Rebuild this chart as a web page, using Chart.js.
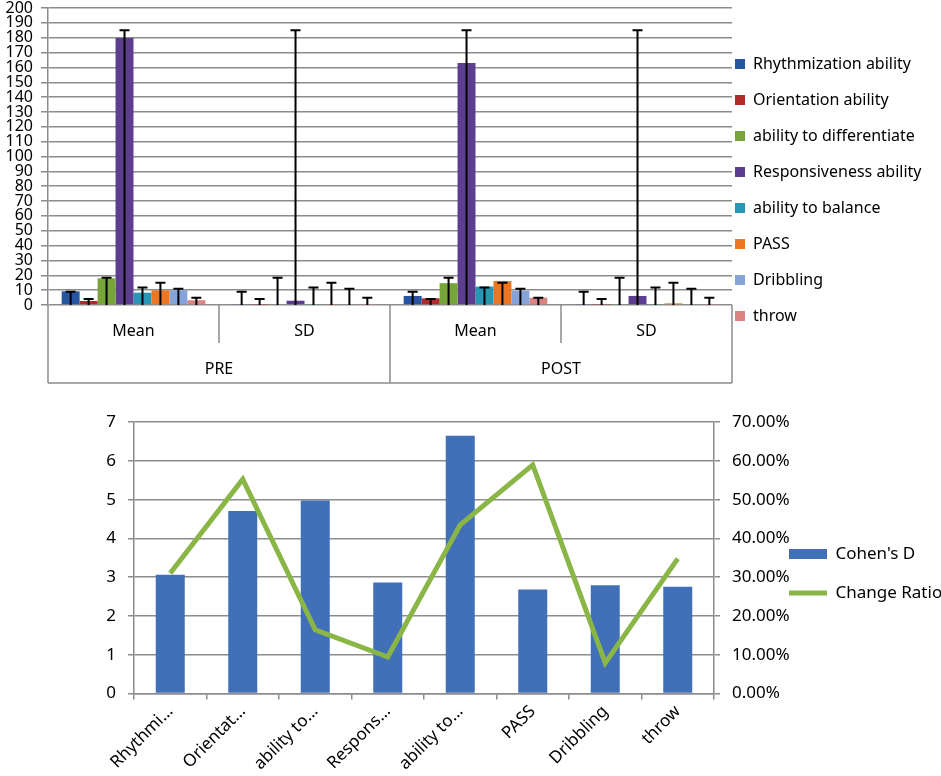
<!DOCTYPE html>
<html>
<head>
<meta charset="utf-8">
<script src="https://cdn.jsdelivr.net/npm/chart.js@4.4.1/dist/chart.umd.min.js"></script>
<style>
  body { margin: 0; background: #fff; }
  #top { position: absolute; left: 0; top: 0; }
  #bottom { position: absolute; left: 0; top: 400px; }
</style>
</head>
<body>
<canvas id="top" width="941" height="390"></canvas>
<canvas id="bottom" width="941" height="376"></canvas>
<script>
// données du graphique du haut
const groups = ['PRE', 'POST'];
const stats = ['Mean', 'SD'];
const abilities = ['Rhythmization ability', 'Orientation ability', 'ability to differentiate',
  'Responsiveness ability', 'ability to balance', 'PASS', 'Dribbling', 'throw'];
// valeurs par aptitude : PRE Mean, PRE SD, POST Mean, POST SD
const rhythmization = [9.2, 0.4, 6.1, 0.4];
const orientation = [2.7, 0.3, 4.5, 0.3];
const differentiate = [18, 0.4, 14.7, 0.4];
const responsiveness = [179.8, 2.9, 163, 6.1];
const balance = [8.3, 0.4, 12.4, 0.4];
const pass = [9.9, 0.4, 16.2, 1.1];
const dribbling = [9.9, 0.4, 9.6, 0.4];
const throwing = [3.2, 0.3, 4.9, 0.3];
// haut des barres d'erreur (identiques dans chaque groupe)
const errorTop = [9, 4, 18.3, 185, 11.8, 15, 11, 4.8];
const topColors = ['#2656A0', '#B02A2A', '#78A53A', '#5C3D8F', '#2797B6', '#EC7722', '#85A3D8', '#D98383'];

// données du graphique du bas
const shortLabels = ['Rhythmi…', 'Orientat…', 'ability to…', 'Respons…', 'ability to…', 'PASS', 'Dribbling', 'throw'];
const cohensD = [3.06, 4.71, 4.98, 2.86, 6.65, 2.68, 2.79, 2.75];
const changeRatio = [31, 55.3, 16.4, 9.4, 43.5, 59, 7.9, 34.8];

const FONT = '"Noto Sans", "Open Sans", sans-serif';
const GRID = '#8c8c8c';

// catégories : Mean / SD pour chaque groupe
const xLabels = [];
groups.forEach(() => stats.forEach(s => xLabels.push(s)));

const series = [rhythmization, orientation, differentiate, responsiveness, balance, pass, dribbling, throwing];

// Fonction pour placer la légende où on veut
function legendPlacer(width, x, y) {
    return {
        id: 'legendPlacer',
        beforeInit(chart) {
            const fit = chart.legend.fit;
            chart.legend.fit = function () {
                fit.call(this);
                this.width = width;
            };
        },
        afterLayout(chart) {
            const pad = chart.options.plugins.legend.labels.padding;
            chart.legend.left = x - pad;
            chart.legend.top = y - pad;
        }
    };
}

// Barres d'erreur (du zéro jusqu'au chapeau)
const errorBars = {
    id: 'errorBars',
    afterDatasetsDraw(chart) {
        const { ctx, scales: { y } } = chart;
        ctx.save();
        ctx.strokeStyle = '#000';
        ctx.lineWidth = 2;
        chart.data.datasets.forEach((ds, i) => {
            const y0 = y.getPixelForValue(0);
            const y1 = y.getPixelForValue(errorTop[i]);
            chart.getDatasetMeta(i).data.forEach(bar => {
                ctx.beginPath();
                ctx.moveTo(bar.x, y0);
                ctx.lineTo(bar.x, y1);
                ctx.moveTo(bar.x - 5, y1);
                ctx.lineTo(bar.x + 5, y1);
                ctx.stroke();
            });
        });
        ctx.restore();
    }
};

// Tableau des catégories à deux niveaux sous l'axe
const groupTable = {
    id: 'groupTable',
    afterDraw(chart) {
        const { ctx, chartArea: a, scales: { x } } = chart;
        const step = (a.right - a.left) / xLabels.length;
        const mid = a.bottom + 38;
        const end = a.bottom + 78;
        ctx.save();
        ctx.strokeStyle = GRID;
        ctx.lineWidth = 1.5;
        ctx.beginPath();
        for (let i = 0; i <= xLabels.length; i++) {
            const px = a.left + i * step;
            ctx.moveTo(px, a.bottom);
            ctx.lineTo(px, i % stats.length === 0 ? end : mid);
        }
        ctx.moveTo(a.left, end);
        ctx.lineTo(a.right, end);
        ctx.stroke();
        ctx.fillStyle = '#000';
        ctx.font = '16px ' + FONT;
        ctx.textAlign = 'center';
        ctx.textBaseline = 'middle';
        xLabels.forEach((lab, i) => {
            ctx.fillText(lab, x.getPixelForValue(i), a.bottom + 26);
        });
        groups.forEach((g, i) => {
            const gx = a.left + (i + 0.5) * step * stats.length;
            ctx.fillText(g, gx, a.bottom + 64);
        });
        ctx.restore();
    }
};

new Chart(document.getElementById('top'), {
    type: 'bar',
    data: {
        labels: xLabels,
        datasets: abilities.map((name, i) => ({
            label: name,
            data: series[i],
            backgroundColor: topColors[i],
            borderWidth: 0,
            categoryPercentage: 0.84,
            barPercentage: 1
        }))
    },
    options: {
        responsive: false,
        animation: false,
        layout: { padding: { top: 0, bottom: 7, right: 0, left: 0 } },
        plugins: {
            tooltip: { enabled: false },
            legend: {
                position: 'right',
                align: 'start',
                labels: {
                    boxWidth: 10,
                    boxHeight: 10,
                    padding: 20,
                    color: '#000',
                    font: { family: FONT, size: 16 }
                }
            }
        },
        scales: {
            x: {
                ticks: { display: false },
                grid: { display: false },
                border: { display: false },
                afterFit(scale) { scale.height = 78; }
            },
            y: {
                min: 0,
                max: 200,
                ticks: {
                    stepSize: 10,
                    autoSkip: false,
                    padding: 8,
                    color: '#000',
                    font: { family: FONT, size: 16, lineHeight: 1 }
                },
                grid: { color: GRID, lineWidth: 1.5, tickLength: 7 },
                border: { color: GRID, width: 1.5 },
                afterFit(scale) {
                    scale.width = 48;
                    scale.paddingTop = 8;
                }
            }
        }
    },
    plugins: [errorBars, groupTable, legendPlacer(209, 735, 56)]
});

// Graphique du bas : Cohen's D et ratio de changement
new Chart(document.getElementById('bottom'), {
    data: {
        labels: shortLabels,
        datasets: [
            {
                type: 'line',
                label: 'Change Ratio',
                data: changeRatio,
                yAxisID: 'y1',
                borderColor: '#8AB547',
                borderWidth: 5,
                pointRadius: 0,
                pointHoverRadius: 0,
                tension: 0,
                order: 0
            },
            {
                type: 'bar',
                label: "Cohen's D",
                data: cohensD,
                yAxisID: 'y',
                backgroundColor: '#416FB8',
                borderWidth: 0,
                categoryPercentage: 1,
                barPercentage: 0.4,
                order: 1
            }
        ]
    },
    options: {
        responsive: false,
        animation: false,
        layout: { padding: { top: 0, bottom: 0, left: 0, right: 0 } },
        plugins: {
            tooltip: { enabled: false },
            legend: {
                position: 'right',
                align: 'start',
                reverse: true,
                labels: {
                    usePointStyle: true,
                    pointStyleWidth: 38,
                    boxHeight: 10,
                    padding: 22,
                    color: '#000',
                    font: { family: FONT, size: 17 },
                    generateLabels(chart) {
                        return Chart.defaults.plugins.legend.labels.generateLabels(chart).map(item => {
                            const ds = chart.data.datasets[item.datasetIndex];
                            if (ds.type === 'line') {
                                item.pointStyle = 'line';
                                item.strokeStyle = ds.borderColor;
                                item.lineWidth = 5;
                            } else {
                                item.pointStyle = 'rect';
                                item.fillStyle = ds.backgroundColor;
                                item.lineWidth = 0;
                            }
                            return item;
                        });
                    }
                }
            }
        },
        scales: {
            x: {
                offset: true,
                ticks: {
                    minRotation: 45,
                    maxRotation: 45,
                    autoSkip: false,
                    padding: 2,
                    color: '#000',
                    font: { family: FONT, size: 17 }
                },
                grid: { drawOnChartArea: false, color: GRID, lineWidth: 1.5, tickLength: 6, offset: true },
                border: { color: GRID, width: 1.5 }
            },
            y: {
                position: 'left',
                min: 0,
                max: 7,
                ticks: { stepSize: 1, padding: 12, color: '#000', font: { family: FONT, size: 17 } },
                grid: { color: GRID, lineWidth: 1.5, tickLength: 6 },
                border: { color: GRID, width: 1.5 },
                afterFit(scale) { scale.width = 134; }
            },
            y1: {
                position: 'right',
                min: 0,
                max: 70,
                ticks: {
                    stepSize: 10,
                    padding: 12,
                    color: '#000',
                    font: { family: FONT, size: 17 },
                    callback: v => v.toFixed(2) + '%'
                },
                grid: { drawOnChartArea: false, color: GRID, lineWidth: 1.5, tickLength: 6 },
                border: { color: GRID, width: 1.5 },
                afterFit(scale) { scale.width = 76; }
            }
        }
    },
    plugins: [legendPlacer(151, 789, 145.5)]
});
</script>
</body>
</html>
